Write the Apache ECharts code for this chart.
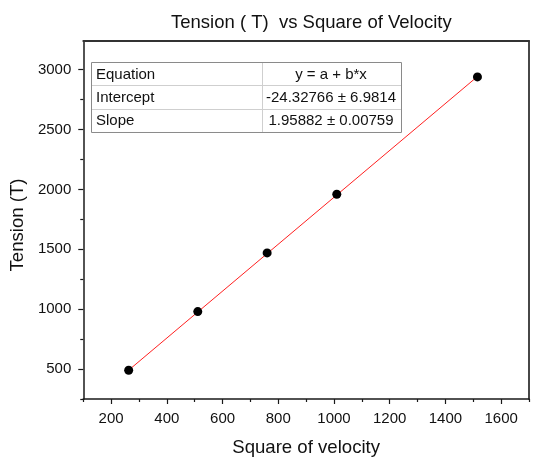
<!DOCTYPE html>
<html>
<head>
<meta charset="utf-8">
<script src="https://cdn.jsdelivr.net/npm/echarts@6/dist/echarts.min.js"></script>
<style>
html,body{margin:0;padding:0;background:#fff;}
#chart{width:560px;height:469px;}
</style>
</head>
<body>
<div id="chart"></div>
<script>
// ---- data ----
const titleText = 'Tension ( T)  vs Square of Velocity';
const xName = 'Square of velocity';
const yName = 'Tension (T)';
const xVals = [263, 511, 760, 1010, 1515];
const yVals = [490, 980, 1470, 1960, 2940];
const fitX = [263, 1515];
const fitY = [490.9, 2943.3];
const xMajor = [200, 400, 600, 800, 1000, 1200, 1400, 1600];
const xMinor = [100, 300, 500, 700, 900, 1100, 1300, 1500, 1700];
const yMajor = [500, 1000, 1500, 2000, 2500, 3000];
const yMinor = [250, 750, 1250, 1750, 2250, 2750];
const tableLabels = ['Equation', 'Intercept', 'Slope'];
const tableValues = ['y = a + b*x', '-24.32766 \u00b1 6.9814', '1.95882 \u00b1 0.00759'];

const FONT = '"Liberation Sans", Arial, sans-serif';
const chart = echarts.init(document.getElementById('chart'), null, {renderer: 'canvas'});

const scatterData = xVals.map((x, i) => [x, yVals[i]]);
const fitData = fitX.map((x, i) => [x, fitY[i]]);
const plain = v => String(v);

// table graphic
const tb = {x: 91, y: 62, w: 310, colX: 262, rowH: 23.33};
const graphics = [];
graphics.push({type: 'rect', shape: {x: tb.x + 0.5, y: tb.y + 0.5, width: tb.w, height: tb.rowH * 3}, style: {fill: '#fff', stroke: '#8a8a8a', lineWidth: 1}, z: 100});
graphics.push({type: 'line', shape: {x1: tb.colX + 0.5, y1: tb.y + 1, x2: tb.colX + 0.5, y2: tb.y + tb.rowH * 3}, style: {stroke: '#cfcfcf', lineWidth: 1}, z: 101});
for (let r = 1; r < 3; r++) {
  const yy = Math.round(tb.y + tb.rowH * r) + 0.5;
  graphics.push({type: 'line', shape: {x1: tb.x + 1, y1: yy, x2: tb.x + tb.w, y2: yy}, style: {stroke: '#cfcfcf', lineWidth: 1}, z: 101});
}
tableLabels.forEach((t, r) => {
  const cy = tb.y + tb.rowH * r + tb.rowH / 2 + 1;
  graphics.push({type: 'text', x: 96, y: cy, style: {text: t, font: '15px ' + FONT, fill: '#111', textAlign: 'left', textVerticalAlign: 'middle'}, z: 102});
  graphics.push({type: 'text', x: 331, y: cy, style: {text: tableValues[r], font: '15px ' + FONT, fill: '#111', textAlign: 'center', textVerticalAlign: 'middle'}, z: 102});
});

const lineCol = '#1a1a1a';
const option = {
  backgroundColor: '#fff',
  animation: false,
  title: {
    text: titleText, left: 171, top: 13, padding: 0,
    textStyle: {fontFamily: FONT, fontSize: 18.5, fontWeight: 'normal', color: '#111'}
  },
  grid: {left: 82, right: 31, top: 41, bottom: 70, containLabel: false},
  xAxis: [
    {
      type: 'value', position: 'bottom', min: 100, max: 1700,
      name: xName, nameLocation: 'middle', nameGap: 39,
      nameTextStyle: {fontFamily: FONT, fontSize: 18.6, color: '#111'},
      axisLine: {show: true, lineStyle: {color: lineCol, width: 1.5}},
      axisTick: {show: true, inside: false, length: 5, customValues: xMajor, lineStyle: {color: lineCol, width: 1.2}},
      axisLabel: {show: true, margin: 12, customValues: xMajor, formatter: plain, fontFamily: FONT, fontSize: 15, color: '#111'},
      splitLine: {show: false}
    },
    {
      type: 'value', position: 'bottom', min: 100, max: 1700, offset: 0,
      axisLine: {show: false},
      axisTick: {show: true, inside: false, length: 3, customValues: xMinor, lineStyle: {color: lineCol, width: 1.2}},
      axisLabel: {show: false},
      splitLine: {show: false}
    },
    {
      type: 'value', position: 'top', min: 100, max: 1700,
      axisLine: {show: true, lineStyle: {color: '#333', width: 1.8}},
      axisTick: {show: false}, axisLabel: {show: false}, splitLine: {show: false}
    }
  ],
  yAxis: [
    {
      type: 'value', position: 'left', min: 250, max: 3240,
      name: yName, nameLocation: 'middle', nameGap: 55,
      nameTextStyle: {fontFamily: FONT, fontSize: 18.6, color: '#111', padding: [0, 10, 0, 0]},
      axisLine: {show: true, lineStyle: {color: lineCol, width: 1.5}},
      axisTick: {show: true, inside: false, length: 5, customValues: yMajor, lineStyle: {color: lineCol, width: 1.2}},
      axisLabel: {show: true, margin: 12, customValues: yMajor, formatter: plain, fontFamily: FONT, fontSize: 15, color: '#111'},
      splitLine: {show: false}
    },
    {
      type: 'value', position: 'left', min: 250, max: 3240, offset: 0,
      axisLine: {show: false},
      axisTick: {show: true, inside: false, length: 3, customValues: yMinor, lineStyle: {color: lineCol, width: 1.2}},
      axisLabel: {show: false},
      splitLine: {show: false}
    },
    {
      type: 'value', position: 'right', min: 250, max: 3240,
      axisLine: {show: true, lineStyle: {color: '#333', width: 1.8}},
      axisTick: {show: false}, axisLabel: {show: false}, splitLine: {show: false}
    }
  ],
  series: [
    {
      type: 'line', data: fitData, xAxisIndex: 0, yAxisIndex: 0,
      showSymbol: false, symbol: 'none',
      lineStyle: {color: '#ff2020', width: 1}, z: 2, silent: true
    },
    {
      type: 'scatter', data: scatterData, xAxisIndex: 0, yAxisIndex: 0,
      symbol: 'circle', symbolSize: 9,
      itemStyle: {color: '#000', opacity: 1}, z: 3
    }
  ],
  graphic: graphics
};
chart.setOption(option);
</script>
</body>
</html>
